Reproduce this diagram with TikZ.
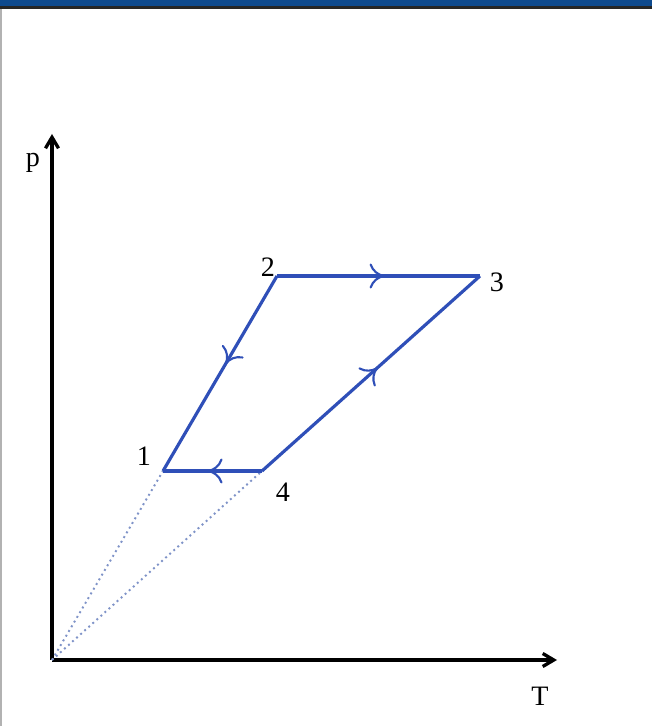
\documentclass[tikz,border=0pt]{standalone}
\usepackage{fontspec}
\setmainfont{Liberation Serif}
\usepackage{xcolor}
\definecolor{cycleBlue}{HTML}{2F4FB8}
\definecolor{barBlue}{HTML}{0E4A8E}
\definecolor{dotBlue}{HTML}{7F93C8}
\usetikzlibrary{arrows.meta, decorations.markings}
\tikzset{
  %% axes and labels
  axe/.style      = {-{Straight Barb[length=2.2mm, width=2.6mm]}, line width=1.9pt, black},
  etiquette/.style = {font=\fontsize{16}{19}\selectfont, inner sep=1pt},
  %% cycle edges, with the direction marked halfway
  branche/.style  = {draw=cycleBlue, line width=1.8pt,
                     postaction={decorate},
                     decoration={markings, mark=at position #1 with
                       {\arrow[cycleBlue, line width=1.2pt]{To[length=3mm, width=5mm]}}}},
  branche/.default = 0.5,
  pointille/.style = {draw=dotBlue, line width=1.1pt, dotted},
}
\begin{document}
\begin{tikzpicture}[x=0.02cm, y=0.02cm]
\useasboundingbox (0,0) rectangle (652,726);
\fill[white] (0,0) rectangle (652,726);

%% Bandeau du haut et filet de gauche.
\fill[barBlue] (0,720) rectangle (652,726);
\fill[black!85] (0,717) rectangle (652,720);
\fill[black!30] (0,0) rectangle (1.5,717);

%% Les points du cycle.
\coordinate (o)  at (52,66);
\coordinate (p1) at (163,255);
\coordinate (p2) at (277,450);
\coordinate (p3) at (480,450);
\coordinate (p4) at (262,255);
\coordinate (ytop) at (52,592);
\coordinate (xend) at (557,66);

%% Axes.
\draw[axe] (o) -- (ytop);
\draw[axe] (o) -- (xend);
\node[etiquette] (lp) at (33,563) {p};
\node[etiquette] (lT) at (540,30) {T};

%% Les isochores jusqu'a l'origine.
\draw[pointille] (o) -- (p1);
\draw[pointille] (o) -- (p4);

%% Le cycle.
\draw[branche=0.53] (p2) -- (p3);
\draw[branche=0.53] (p4) -- (p3);
\draw[branche=0.55] (p4) -- (p1);
\draw[branche=0.45] (p2) -- (p1);

%% Numeros des etats.
\node[etiquette] (n1) at (144,270) {1};
\node[etiquette] (n2) at (268,459) {2};
\node[etiquette] (n3) at (497,444) {3};
\node[etiquette] (n4) at (283,234) {4};

\end{tikzpicture}
\end{document}
